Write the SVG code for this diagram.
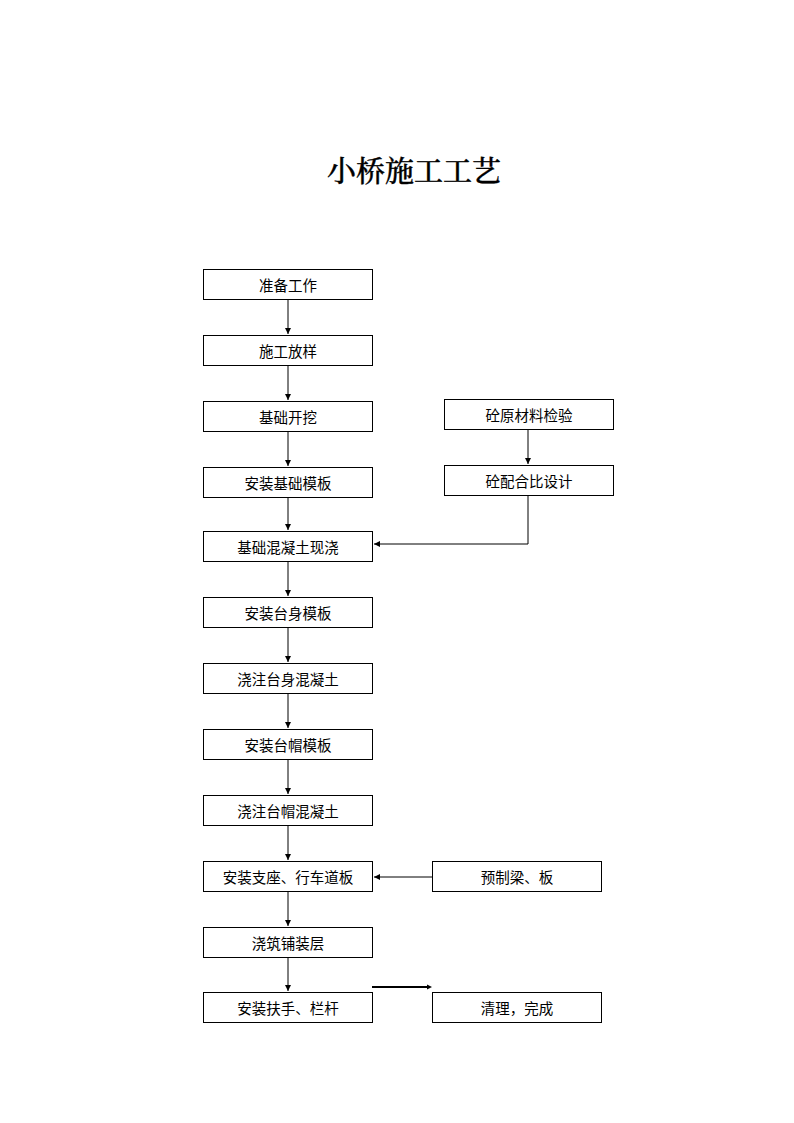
<svg xmlns="http://www.w3.org/2000/svg" width="794" height="1123" viewBox="0 0 794 1123">
<style>
.box{fill:#fff;stroke:#000;stroke-width:1}
.t{font-family:"Liberation Sans","Noto Sans CJK SC",sans-serif;font-size:14.5px;text-anchor:middle;fill:#000}
.title{font-family:"Noto Serif CJK SC","Liberation Serif","Noto Sans CJK SC",serif;font-size:29px;font-weight:500;text-anchor:middle;fill:#000;stroke:#000;stroke-width:0.4}
.c{stroke:#000;stroke-width:1;fill:none}
</style>
<defs>
<marker id="a" markerWidth="8" markerHeight="8" refX="6" refY="3" orient="auto" markerUnits="userSpaceOnUse">
<path d="M0,0 L6,3 L0,6 Z" fill="#000"/>
</marker>
</defs>
<rect width="794" height="1123" fill="#fff"/>
<text class="title" x="414" y="182">小桥施工工艺</text>
<g id="connectors">
<line class="c" x1="288" y1="299" x2="288" y2="334" marker-end="url(#a)"/>
<line class="c" x1="288" y1="365" x2="288" y2="400" marker-end="url(#a)"/>
<line class="c" x1="288" y1="431" x2="288" y2="466" marker-end="url(#a)"/>
<line class="c" x1="288" y1="497" x2="288" y2="530" marker-end="url(#a)"/>
<line class="c" x1="288" y1="561" x2="288" y2="596" marker-end="url(#a)"/>
<line class="c" x1="288" y1="627" x2="288" y2="662" marker-end="url(#a)"/>
<line class="c" x1="288" y1="693" x2="288" y2="728" marker-end="url(#a)"/>
<line class="c" x1="288" y1="759" x2="288" y2="794" marker-end="url(#a)"/>
<line class="c" x1="288" y1="825" x2="288" y2="860" marker-end="url(#a)"/>
<line class="c" x1="288" y1="891" x2="288" y2="926" marker-end="url(#a)"/>
<line class="c" x1="288" y1="957" x2="288" y2="991" marker-end="url(#a)"/>
<line class="c" x1="528" y1="429" x2="528" y2="464" marker-end="url(#a)"/>
<polyline class="c" points="528,495 528,544 374,544" marker-end="url(#a)"/>
<line class="c" x1="432" y1="877" x2="374" y2="877" marker-end="url(#a)"/>
<line x1="372" y1="987" x2="428" y2="987" stroke="#000" stroke-width="2"/>
<path d="M427,984.5 L432,987 L427,989.5 Z" fill="#000"/>
</g>
<g id="n1"><rect class="box" x="203.5" y="269.5" width="169" height="30"/><text class="t" x="288" y="291">准备工作</text></g>
<g id="n2"><rect class="box" x="203.5" y="335.5" width="169" height="30"/><text class="t" x="288" y="357">施工放样</text></g>
<g id="n3"><rect class="box" x="203.5" y="401.5" width="169" height="30"/><text class="t" x="288" y="423">基础开挖</text></g>
<g id="n4"><rect class="box" x="203.5" y="467.5" width="169" height="30"/><text class="t" x="288" y="489">安装基础模板</text></g>
<g id="n5"><rect class="box" x="203.5" y="531.5" width="169" height="30"/><text class="t" x="288" y="553">基础混凝土现浇</text></g>
<g id="n6"><rect class="box" x="203.5" y="597.5" width="169" height="30"/><text class="t" x="288" y="619">安装台身模板</text></g>
<g id="n7"><rect class="box" x="203.5" y="663.5" width="169" height="30"/><text class="t" x="288" y="685">浇注台身混凝土</text></g>
<g id="n8"><rect class="box" x="203.5" y="729.5" width="169" height="30"/><text class="t" x="288" y="751">安装台帽模板</text></g>
<g id="n9"><rect class="box" x="203.5" y="795.5" width="169" height="30"/><text class="t" x="288" y="817">浇注台帽混凝土</text></g>
<g id="n10"><rect class="box" x="203.5" y="861.5" width="169" height="30"/><text class="t" x="288" y="883">安装支座、行车道板</text></g>
<g id="n11"><rect class="box" x="203.5" y="927.5" width="169" height="30"/><text class="t" x="288" y="949">浇筑铺装层</text></g>
<g id="n12"><rect class="box" x="203.5" y="992.5" width="169" height="30"/><text class="t" x="288" y="1014">安装扶手、栏杆</text></g>
<g id="r1"><rect class="box" x="444.5" y="399.5" width="169" height="30"/><text class="t" x="529" y="421">砼原材料检验</text></g>
<g id="r2"><rect class="box" x="444.5" y="465.5" width="169" height="30"/><text class="t" x="529" y="487">砼配合比设计</text></g>
<g id="r3"><rect class="box" x="432.5" y="861.5" width="169" height="30"/><text class="t" x="517" y="883">预制梁、板</text></g>
<g id="r4"><rect class="box" x="432.5" y="992.5" width="169" height="30"/><text class="t" x="517" y="1014">清理，完成</text></g>
</svg>
